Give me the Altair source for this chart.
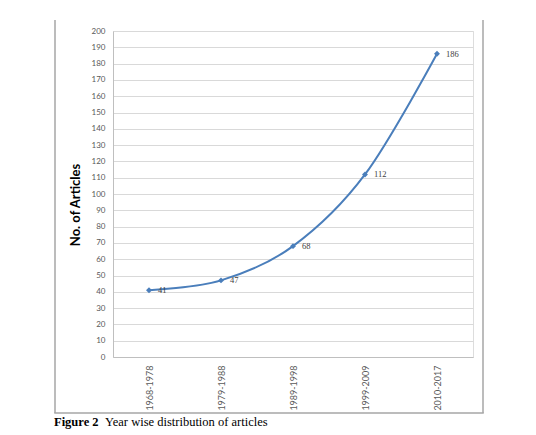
import altair as alt
import pandas as pd

periods = ["1968-1978", "1979-1988", "1989-1998", "1999-2009", "2010-2017"]
articles = [41, 47, 68, 112, 186]
y_ticks = list(range(0, 201, 10))

df = pd.DataFrame({"period": periods, "articles": articles})
one = pd.DataFrame({"k": [0]})

LINE = "#4a7ebb"
PT_SCALE = alt.Scale(type="point", padding=0.5)

x_enc = alt.X("period:N", sort=periods, title=None, scale=PT_SCALE,
              axis=alt.Axis(labelAngle=270, labelFontSize=9, labelColor="#595959",
                            labelFont="Lato", ticks=False, labelPadding=8,
                            domainColor="#bfbfbf", grid=False))
y_enc = alt.Y("articles:Q", title=None,
              scale=alt.Scale(domain=[0, 200], nice=False),
              axis=alt.Axis(values=y_ticks, labelFontSize=8, labelColor="#595959",
                            labelFont="Lato", ticks=False, labelPadding=8,
                            labelOverlap=False, labelBound=False,
                            domainColor="#bfbfbf", gridColor="#d9d9d9", gridWidth=1))

base = alt.Chart(df).encode(x=x_enc, y=y_enc)
line = base.mark_line(color=LINE, strokeWidth=2, interpolate="cardinal")
pts = base.mark_point(shape="diamond", filled=True, color=LINE, size=35, opacity=1)
labels = base.mark_text(align="left", dx=9, dy=0, fontSize=8.5, font="Liberation Serif",
                        color="#404040").encode(text="articles:Q")


def vrule(x, y1, y2, color, w):
    return alt.Chart(one).mark_rule(color=color, strokeWidth=w).encode(
        x=alt.value(x), y=alt.value(y1), y2=alt.value(y2))


def hrule(x1, x2, y, color, w):
    return alt.Chart(one).mark_rule(color=color, strokeWidth=w).encode(
        x=alt.value(x1), x2=alt.value(x2), y=alt.value(y), y2=alt.value(y + 0.001))


FR = "#a6a6a6"
frame = [
    vrule(-58, -11, 382, FR, 1.5),
    vrule(370, -11, 382, FR, 1.5),
    hrule(-58.75, 370.75, 382, FR, 1.5),
]
top_rule = hrule(-61, 423, -27, "#8c8c8c", 1)

ytitle = alt.Chart(one).mark_text(text="No. of Articles", angle=270, fontSize=13,
                                  fontWeight="bold", font="Lato", color="#000000").encode(
    x=alt.value(-37), y=alt.value(174))
cap1 = alt.Chart(one).mark_text(text="Figure 2", align="left", baseline="middle", fontSize=12.5,
                                fontWeight="bold", font="Liberation Serif", color="#000").encode(
    x=alt.value(-59), y=alt.value(391))
cap2 = alt.Chart(one).mark_text(text="Year wise distribution of articles", align="left",
                                baseline="middle", fontSize=12.5, font="Liberation Serif",
                                color="#000").encode(
    x=alt.value(-8), y=alt.value(391))

chart = alt.layer(*frame, top_rule, line, pts, labels, ytitle, cap1, cap2).properties(
    width=360, height=326,
    autosize=alt.AutoSizeParams(type="none"),
    padding={"left": 105, "top": 23, "right": 55, "bottom": 75},
).configure_view(stroke=None).configure(background="white")

chart.save("out.html", embed_options={"renderer": "svg", "actions": False})
